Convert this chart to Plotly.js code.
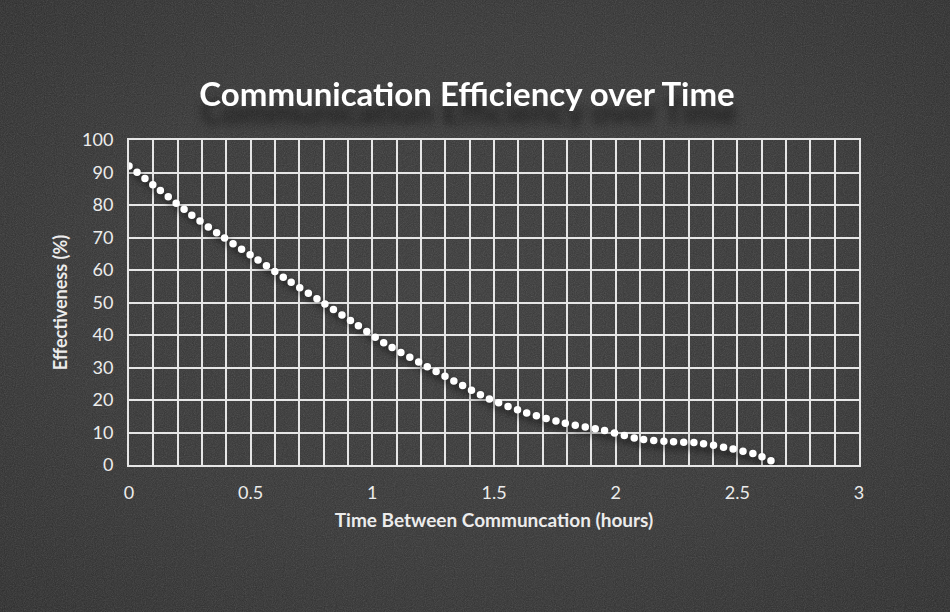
<!DOCTYPE html>
<html>
<head>
<meta charset="utf-8">
<script src="https://cdn.plot.ly/plotly-3.0.1.min.js"></script>
<style>
  html, body { margin: 0; padding: 0; width: 950px; height: 612px; overflow: hidden; }
  body {
    background-color: #323232;
    background-image:
      url("data:image/svg+xml;utf8,<svg xmlns='http://www.w3.org/2000/svg' width='950' height='612'><filter id='n'><feTurbulence type='fractalNoise' baseFrequency='0.9' numOctaves='2' stitchTiles='stitch'/><feColorMatrix type='saturate' values='0'/><feComponentTransfer><feFuncA type='linear' slope='0.22'/></feComponentTransfer></filter><rect width='100%' height='100%' filter='url(%23n)'/></svg>"),
      radial-gradient(ellipse 80% 85% at 50% 48%, #383838 0%, #333333 50%, #2b2b2b 85%, #252525 100%);
  }
  #chart { width: 950px; height: 612px; }
  .scatterlayer path.js-line { stroke-linecap: round; filter: drop-shadow(3px 5px 3px rgba(0,0,0,0.55)); }
  .gtitle { filter: drop-shadow(2px 18px 4px rgba(0,0,0,0.5)); }
</style>
</head>
<body>
<div id="chart"></div>
<script>
// Time between communication (hours)
const hours = [0, 0.126, 0.252, 0.385, 0.518, 0.652, 0.786, 0.921, 1.052, 1.195, 1.337, 1.479, 1.627, 1.784, 1.942, 2.097, 2.217, 2.337, 2.456, 2.573, 2.647];
// Effectiveness (%)
const effectiveness = [92.0, 84.6, 77.2, 70.2, 63.7, 56.9, 50.5, 43.9, 37.4, 31.5, 25.8, 20.4, 16.2, 13.0, 10.8, 8.0, 7.2, 6.8, 5.3, 3.3, 1.0];
const xTickVals = [0, 0.5, 1, 1.5, 2, 2.5, 3];
const xTickText = ['0', '0.5', '1', '1.5', '2', '2.5', '3'];
const yTickVals = [0, 10, 20, 30, 40, 50, 60, 70, 80, 90, 100];

const gridColor = '#e6e6e6';
const textColor = '#ececec';
const fontFamily = 'Lato, "Open Sans", sans-serif';

const trace = {
  x: hours,
  y: effectiveness,
  type: 'scatter',
  mode: 'lines',
  line: { color: '#ffffff', width: 7.5, dash: '0px,10px', shape: 'spline', smoothing: 0.8 },
  hoverinfo: 'skip',
  showlegend: false
};

const layout = {
  width: 950,
  height: 612,
  paper_bgcolor: 'rgba(0,0,0,0)',
  plot_bgcolor: 'rgba(0,0,0,0)',
  margin: { l: 129, r: 91, t: 140, b: 147 },
  font: { family: fontFamily, color: textColor, size: 18 },
  title: {
    text: '<b>Communication Efficiency over Time</b>',
    font: { family: fontFamily, size: 33, color: '#ffffff' },
    xref: 'container', x: 0.4916, xanchor: 'center',
    yref: 'container', y: 0.845, yanchor: 'middle'
  },
  xaxis: {
    range: [0, 3],
    tickmode: 'array', tickvals: xTickVals, ticktext: xTickText,
    ticks: 'outside', ticklen: 10, tickcolor: 'rgba(0,0,0,0)',
    showgrid: true, gridcolor: gridColor, gridwidth: 2,
    minor: { dtick: 0.1, tick0: 0, showgrid: true, gridcolor: gridColor, gridwidth: 2, ticks: '' },
    showline: true, mirror: true, linecolor: gridColor, linewidth: 2,
    zeroline: false,
    tickfont: { family: fontFamily, size: 18, color: textColor },
    title: { text: '<b>Time Between Communcation (hours)</b>', font: { family: fontFamily, size: 19, color: textColor }, standoff: 12 },
    fixedrange: true
  },
  yaxis: {
    range: [0, 100],
    tickmode: 'array', tickvals: yTickVals,
    ticks: 'outside', ticklen: 10, tickcolor: 'rgba(0,0,0,0)',
    showgrid: true, gridcolor: gridColor, gridwidth: 2,
    showline: true, mirror: true, linecolor: gridColor, linewidth: 2,
    zeroline: false,
    tickfont: { family: fontFamily, size: 18, color: textColor },
    title: { text: '<b>Effectiveness (%)</b>', font: { family: fontFamily, size: 18, color: textColor }, standoff: 10 },
    fixedrange: true
  }
};

Plotly.newPlot('chart', [trace], layout, { displayModeBar: false, staticPlot: true });
</script>
</body>
</html>
